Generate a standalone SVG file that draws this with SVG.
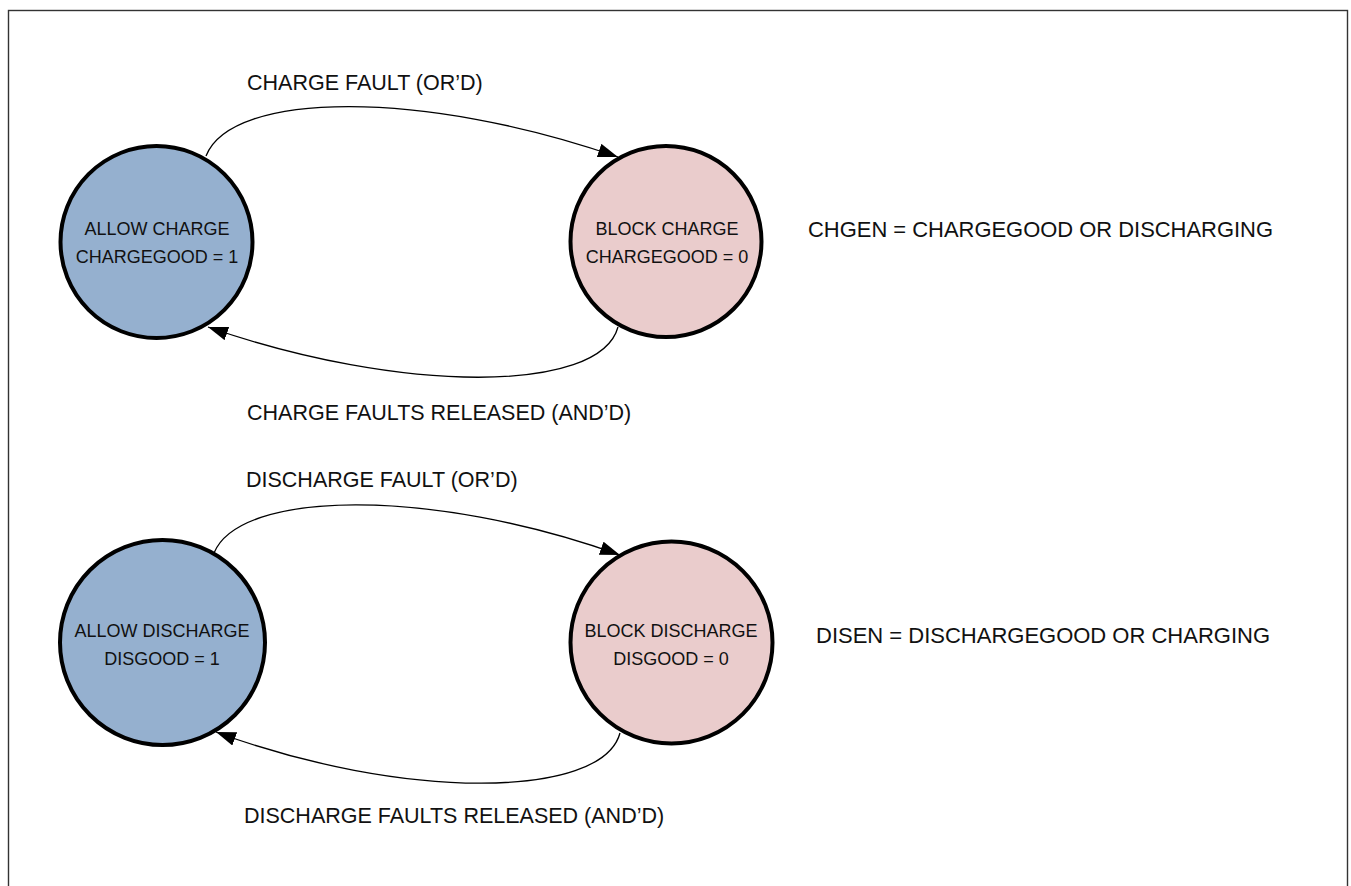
<svg xmlns="http://www.w3.org/2000/svg" width="1351" height="886" viewBox="0 0 1351 886">
<style>
.st{stroke:#000;stroke-width:4}
.allow{fill:#95B0CF}
.block{fill:#EACCCC}
.nt{font-family:"Liberation Sans",Arial,sans-serif;font-size:18px;fill:#111;text-anchor:middle}
.lb{font-family:"Liberation Sans",Arial,sans-serif;font-size:21.5px;fill:#111}
.cn{fill:none;stroke:#000;stroke-width:1.3;marker-end:url(#arr)}
</style>
<defs>
<marker id="arr" markerUnits="userSpaceOnUse" markerWidth="22" markerHeight="16" refX="20" refY="7" orient="auto">
<path d="M0,0 L20,7 L0,14 z" fill="#000"/>
</marker>
</defs>
<rect x="8.5" y="10.5" width="1339" height="900" fill="none" stroke="#333" stroke-width="1.4"/>
<g id="connectors">
<path class="cn" d="M206,156 C232,90 425,90 618,157"/>
<path class="cn" d="M618,327 C600,394 400,394 208,327"/>
<path class="cn" d="M214,553 C240,490 430,487 620,555"/>
<path class="cn" d="M620,733 C602,800 400,800 216,732"/>
</g>
<g id="allow-charge">
<circle class="st allow" cx="156.5" cy="242" r="96"/>
<text class="nt" x="157" y="235">ALLOW CHARGE</text>
<text class="nt" x="157" y="263">CHARGEGOOD = 1</text>
</g>
<g id="block-charge">
<circle class="st block" cx="666" cy="241.5" r="95.5"/>
<text class="nt" x="667" y="235">BLOCK CHARGE</text>
<text class="nt" x="667" y="263">CHARGEGOOD = 0</text>
</g>
<g id="allow-discharge">
<circle class="st allow" cx="162.5" cy="642.5" r="102.5"/>
<text class="nt" x="162" y="637">ALLOW DISCHARGE</text>
<text class="nt" x="162" y="665">DISGOOD = 1</text>
</g>
<g id="block-discharge">
<circle class="st block" cx="671.5" cy="642.5" r="101"/>
<text class="nt" x="671" y="637">BLOCK DISCHARGE</text>
<text class="nt" x="671" y="665">DISGOOD = 0</text>
</g>
<g id="labels">
<text class="lb" x="247" y="90">CHARGE FAULT (OR’D)</text>
<text class="lb" x="247" y="420">CHARGE FAULTS RELEASED (AND’D)</text>
<text class="lb" x="808" y="237" textLength="465" lengthAdjust="spacingAndGlyphs">CHGEN = CHARGEGOOD OR DISCHARGING</text>
<text class="lb" x="246" y="487">DISCHARGE FAULT (OR’D)</text>
<text class="lb" x="244" y="823">DISCHARGE FAULTS RELEASED (AND’D)</text>
<text class="lb" x="816" y="643" textLength="454" lengthAdjust="spacingAndGlyphs">DISEN = DISCHARGEGOOD OR CHARGING</text>
</g>
</svg>
